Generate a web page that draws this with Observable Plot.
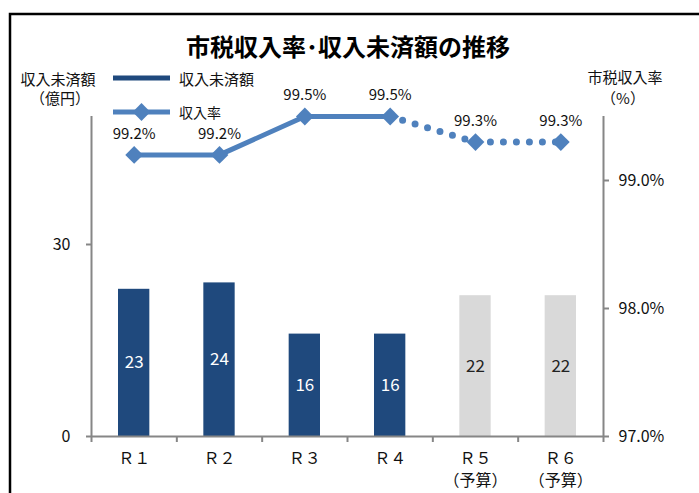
<!DOCTYPE html>
<html>
<head>
<meta charset="utf-8">
<script src="https://cdn.jsdelivr.net/npm/d3@7"></script>
<script src="https://cdn.jsdelivr.net/npm/@observablehq/plot@0.6"></script>
<style>
  html, body { margin: 0; padding: 0; background: #fff; }
  #chart { width: 699px; height: 493px; overflow: hidden; }
  svg { font-family: "Noto Sans CJK JP", "Noto Sans", sans-serif; }
</style>
</head>
<body>
<div id="chart"></div>
<script>
const categories = ["Ｒ１", "Ｒ２", "Ｒ３", "Ｒ４", "Ｒ５", "Ｒ６"];
const subLabels = ["", "", "", "", "（予算）", "（予算）"];
const unpaid = [23, 24, 16, 16, 22, 22];          // 収入未済額（億円）
const rate = [99.2, 99.2, 99.5, 99.5, 99.3, 99.3]; // 市税収入率（%）
const isBudget = [false, false, false, false, true, true];
const leftTicks = [0, 30];
const rightTicks = [97.0, 98.0, 99.0];

const rateMin = 97.0, rateMax = 99.5, leftMax = 50;
const toLeft = r => (r - rateMin) * leftMax / (rateMax - rateMin);
const fromLeft = v => v * (rateMax - rateMin) / leftMax + rateMin;

const data = categories.map((c, i) => ({
  i, cat: c, sub: subLabels[i], unpaid: unpaid[i], rate: rate[i], budget: isBudget[i]
}));

const darkBlue = "#1f497d", lineBlue = "#4f81bd", gray = "#d9d9d9", axisGray = "#868686";
const xc = d => d.i + 0.5;
const yr = d => toLeft(d.rate);

const plot = Plot.plot({
  width: 699,
  height: 493,
  marginLeft: 91,
  marginRight: 96,
  marginTop: 116,
  marginBottom: 57,
  style: { fontFamily: '"Noto Sans CJK JP", sans-serif', background: "transparent", overflow: "visible" },
  x: { domain: [0, categories.length], axis: null },
  y: { domain: [0, leftMax], axis: null },
  marks: [
    Plot.rectY(data, {
      x1: d => d.i, x2: d => d.i + 1, y: "unpaid",
      insetLeft: 27, insetRight: 27,
      fill: d => d.budget ? gray : darkBlue
    }),
    Plot.text(data, {
      x: xc, y: d => d.unpaid / 2, text: d => String(d.unpaid),
      fill: d => d.budget ? "#222" : "#fff", fontSize: 17
    }),
    Plot.ruleX([0], { y1: 0, y2: leftMax, stroke: axisGray, strokeWidth: 2 }),
    Plot.ruleX([categories.length], { y1: 0, y2: leftMax, stroke: axisGray, strokeWidth: 2 }),
    Plot.ruleY([0], { x1: 0, x2: categories.length, stroke: axisGray, strokeWidth: 2 }),
    Plot.axisY(leftTicks, {
      anchor: "left", tickSize: 5, tickPadding: 16, stroke: axisGray, strokeWidth: 2,
      fontSize: 16, fill: "#111", label: null
    }),
    Plot.axisY(rightTicks.map(toLeft), {
      anchor: "right", tickSize: 5, tickPadding: 10, stroke: axisGray, strokeWidth: 2,
      fontSize: 16, fill: "#111", label: null,
      tickFormat: v => fromLeft(v).toFixed(1) + "%"
    }),
    Plot.axisX(d3.range(categories.length + 1), {
      tickSize: 6, stroke: axisGray, strokeWidth: 2, tickFormat: () => "", label: null
    }),
    Plot.text(data, {
      x: xc, frameAnchor: "bottom", dy: 27, text: "cat", fontSize: 16, fill: "#111"
    }),
    Plot.text(data.filter(d => d.sub), {
      x: xc, frameAnchor: "bottom", dy: 49, text: "sub", fontSize: 16, fill: "#111"
    }),
    Plot.line(data.filter(d => d.i <= 3), {
      x: xc, y: yr, stroke: lineBlue, strokeWidth: 5
    }),
    Plot.line(data.filter(d => d.i >= 3), {
      x: xc, y: yr, stroke: lineBlue, strokeWidth: 7,
      strokeDasharray: "0 13", strokeLinecap: "round"
    }),
    Plot.dot(data, { x: xc, y: yr, symbol: "diamond2", r: 8, fill: lineBlue, stroke: null }),
    Plot.text(data, {
      x: xc, y: yr, dy: -21, text: d => d.rate.toFixed(1) + "%", fontSize: 15, fill: "#111"
    })
  ]
});

document.getElementById("chart").appendChild(plot);

const svg = d3.select(plot);
const font = '"Noto Sans CJK JP", sans-serif';
// border
svg.append("rect").attr("x", 10).attr("y", 14).attr("width", 800).attr("height", 600)
  .attr("fill", "none").attr("stroke", "#000").attr("stroke-width", 2.5);
// title
svg.append("text").attr("x", 348).attr("y", 45).attr("text-anchor", "middle")
  .attr("dominant-baseline", "central").attr("font-size", 24).attr("font-weight", "bold")
  .attr("font-family", font).attr("fill", "#000").text("市税収入率･収入未済額の推移");
// axis titles
const addText = (x, y, t, size, anchor) => svg.append("text").attr("x", x).attr("y", y)
  .attr("text-anchor", anchor || "middle").attr("dominant-baseline", "central")
  .attr("font-size", size).attr("font-family", font).attr("fill", "#111").text(t);
addText(58, 78, "収入未済額", 15);
addText(60, 97, "（億円）", 15);
addText(625, 76, "市税収入率", 15);
addText(623, 97, "（%）", 15);
// legend
svg.append("line").attr("x1", 113).attr("x2", 170).attr("y1", 78).attr("y2", 78)
  .attr("stroke", darkBlue).attr("stroke-width", 5);
addText(179, 78, "収入未済額", 15, "start");
svg.append("line").attr("x1", 113).attr("x2", 170).attr("y1", 112).attr("y2", 112)
  .attr("stroke", lineBlue).attr("stroke-width", 5);
svg.append("path").attr("d", d3.symbol(d3.symbolDiamond2, Math.PI * 64)())
  .attr("transform", "translate(141.5,112)").attr("fill", lineBlue);
addText(179, 112, "収入率", 14, "start");
</script>
</body>
</html>
